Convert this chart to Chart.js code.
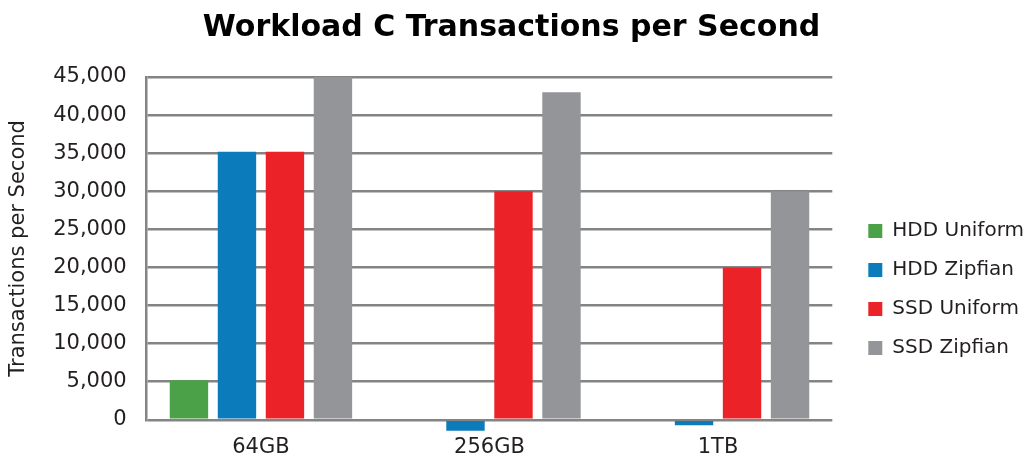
<!DOCTYPE html>
<html>
<head>
<meta charset="utf-8">
<script src="https://cdn.jsdelivr.net/npm/chart.js@4/dist/chart.umd.min.js"></script>
<style>
  html, body { margin: 0; padding: 0; background: #fff; }
  #wrap { width: 1029px; height: 458px; }
</style>
</head>
<body>
<div id="wrap"><canvas id="chart" width="1029" height="458"></canvas></div>
<script>
// Catégories et séries
const categories = ["64GB", "256GB", "1TB"];
const hddUniform = [5200, 0, 0];
const hddZipfian = [35200, -1450, -700];
const ssdUniform = [35200, 30000, 20000];
const ssdZipfian = [45000, 43000, 30000];
const yTicks = [0, 5000, 10000, 15000, 20000, 25000, 30000, 35000, 40000, 45000];

const gridColor = "#848484";
const textColor = "#231f20";
const labelFont = { family: "DejaVu Sans", size: 21 };

function makeSet(label, data, color) {
  return {
    label: label,
    data: data,
    backgroundColor: color,
    borderWidth: 0,
    clip: false // les barres négatives débordent sous l'axe
  };
}

// Décaler la légende pour la placer comme sur l'image
const legendShift = {
  id: "legendShift",
  afterLayout(chart) {
    const lg = chart.legend;
    lg.left += 17; lg.right += 17;
    lg.top += 49; lg.bottom += 49;
  }
};

const ctx = document.getElementById("chart").getContext("2d");
new Chart(ctx, {
  type: "bar",
  data: {
    labels: categories,
    datasets: [
      makeSet("HDD Uniform", hddUniform, "#4aa147"),
      makeSet("HDD Zipfian", hddZipfian, "#0c7bbb"),
      makeSet("SSD Uniform", ssdUniform, "#ec2229"),
      makeSet("SSD Zipfian", ssdZipfian, "#939598")
    ]
  },
  plugins: [legendShift],
  options: {
    responsive: false,
    animation: false,
    layout: { padding: { left: 6, right: 12, top: 6, bottom: -17 } },
    datasets: {
      bar: { categoryPercentage: 0.84, barPercentage: 0.8 }
    },
    plugins: {
      title: {
        display: true,
        text: "Workload C Transactions per Second",
        color: "#000",
        font: { family: "DejaVu Sans", size: 30, weight: "bold" },
        padding: { top: 4, bottom: 31 }
      },
      legend: {
        position: "right",
        align: "center",
        labels: {
          color: textColor,
          font: { family: "DejaVu Sans", size: 20 },
          boxWidth: 14,
          boxHeight: 14,
          padding: 19
        }
      },
      tooltip: { enabled: false }
    },
    scales: {
      x: {
        grid: { display: false, drawTicks: false },
        border: { display: false },
        ticks: { color: textColor, font: labelFont, padding: 15 }
      },
      y: {
        min: 0,
        max: 45000,
        afterBuildTicks: (axis) => {
          axis.ticks = yTicks.map((v) => ({ value: v }));
        },
        grid: { color: gridColor, lineWidth: 2.5, drawTicks: false },
        border: { display: true, color: gridColor, width: 2.5 },
        ticks: {
          color: textColor,
          font: labelFont,
          padding: 20,
          callback: (v) => v.toLocaleString("en-US")
        },
        title: {
          display: true,
          text: "Transactions per Second",
          color: textColor,
          font: labelFont,
          padding: { top: 0, bottom: 2 }
        }
      }
    }
  }
});
</script>
</body>
</html>
